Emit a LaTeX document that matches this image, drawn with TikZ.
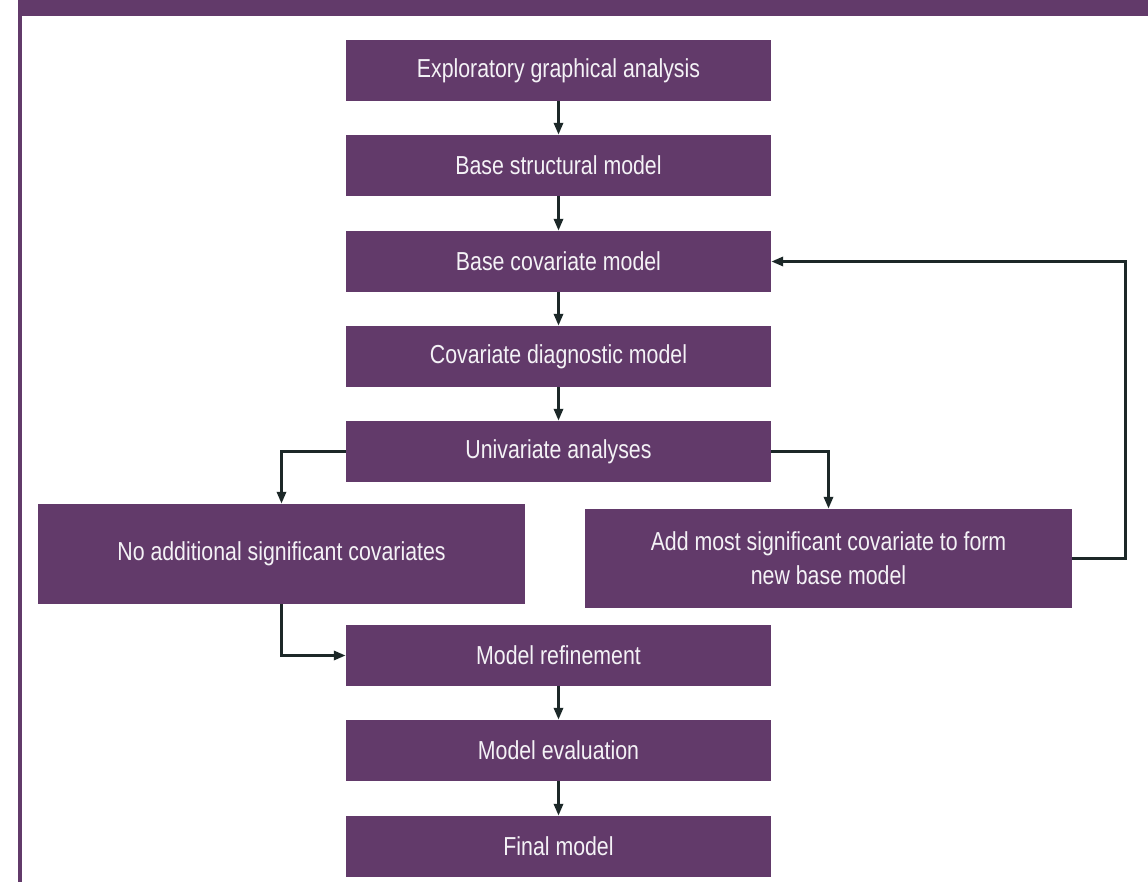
\documentclass[tikz,border=0pt]{standalone}
\usepackage{fontspec}
\setmainfont[FakeStretch=0.82]{Liberation Sans}
\usetikzlibrary{arrows.meta}
\definecolor{purp}{RGB}{98,58,106}
\definecolor{arr}{RGB}{28,40,40}
\definecolor{txt}{RGB}{244,242,246}
\begin{document}
\begin{tikzpicture}[x=1pt,y=-1pt,
  box/.style={fill=purp,draw=none,inner sep=0pt,minimum width=425pt,minimum height=61pt,
    text=txt,font=\fontsize{26}{34}\selectfont,align=center},
  widebox/.style={box,minimum width=487pt,minimum height=100pt},
  conn/.style={draw=arr,line width=3pt,-{Triangle[length=12pt,width=9pt]}}]
\useasboundingbox (0,0) rectangle (1148,882);
\fill[white] (0,0) rectangle (1148,882);
% header band and left rule
\fill[purp] (18,0) rectangle (1148,16);
\fill[purp] (18,16) rectangle (22,882);
% boxes
\node[box] (b1) at (558.5,70.5) {Exploratory graphical analysis};
\node[box] (b2) at (558.5,165.5) {Base structural model};
\node[box] (b3) at (558.5,261.5) {Base covariate model};
\node[box] (b4) at (558.5,356.5) {Covariate diagnostic model};
\node[box] (b5) at (558.5,451.5) {Univariate analyses};
\node[widebox] (nl) at (281.5,554) {No additional significant covariates};
\node[widebox,minimum height=99pt] (nr) at (828.5,558.5) {Add most significant covariate to form\\new base model};
\node[box] (b6) at (558.5,655.5) {Model refinement};
\node[box] (b7) at (558.5,750.5) {Model evaluation};
\node[box] (b8) at (558.5,846.5) {Final model};
\coordinate (loop) at (1125.5,558.5);
% connectors
\draw[conn] (b1) -- (b2);
\draw[conn] (b2) -- (b3);
\draw[conn] (b3) -- (b4);
\draw[conn] (b4) -- (b5);
\draw[conn] (b5.west) -| (nl.north);
\draw[conn] (b5.east) -| (nr.north);
\draw[conn] (nl.south) |- (b6.west);
\draw[conn] (nr.east) -- (loop) |- (b3.east);
\draw[conn] (b6) -- (b7);
\draw[conn] (b7) -- (b8);
\end{tikzpicture}
\end{document}
